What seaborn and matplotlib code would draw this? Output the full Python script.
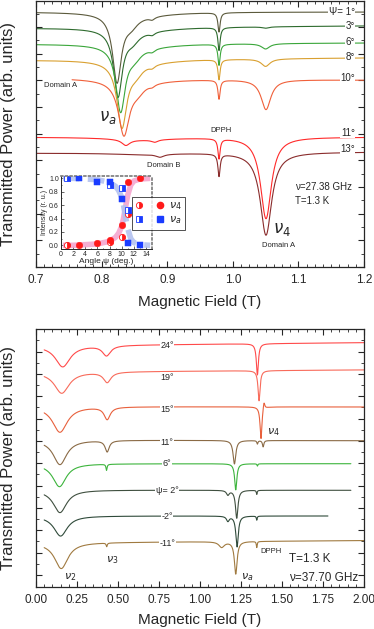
import numpy as np
import pandas as pd
import matplotlib
matplotlib.use("Agg")
import matplotlib.pyplot as plt
import seaborn as sns
from matplotlib.ticker import MultipleLocator, FixedLocator
from matplotlib.legend_handler import HandlerTuple
from matplotlib.lines import Line2D

# ---------------- upper panel, nu = 27.38 GHz ----------------
top_labels = ['Ψ= 1°', '3°', '6°', '8°', '10°', '11°', '13°']
top_colors = ['#5b5a3c', '#2e6b2e', '#3aa63a', '#d9a030', '#f0603a', '#ff2a2a', '#8a2c2c']
top_start = [0.70, 0.70, 0.70, 0.70, 0.755, 0.70, 0.70]
top_end = [1.20, 1.20, 1.20, 1.20, 1.20, 1.20, 1.20]
top_base_left = [9.56, 8.96, 8.36, 7.76, 7.08, 4.87, 4.27]
top_base_right = [9.56, 9.04, 8.40, 7.84, 7.01, 4.87, 4.31]
# absorption lines per trace: (field T, depth, fwhm T)
top_lines = [
    [(0.8235, 2.50, 0.016), (0.845, 0.35, 0.025), (0.86, 0.12, 0.12), (0.877, 0.10, 0.010), (0.979, 0.72, 0.004)],
    [(0.825, 2.45, 0.016), (0.847, 0.35, 0.025), (0.86, 0.12, 0.12), (0.877, 0.10, 0.010), (0.979, 0.86, 0.004), (1.05, 0.05, 0.012)],
    [(0.829, 2.40, 0.017), (0.850, 0.35, 0.025), (0.86, 0.12, 0.12), (0.877, 0.10, 0.010), (0.979, 0.79, 0.004), (1.05, 0.20, 0.015)],
    [(0.831, 2.40, 0.018), (0.852, 0.35, 0.025), (0.86, 0.12, 0.12), (0.877, 0.10, 0.010), (0.979, 0.75, 0.004), (1.05, 0.28, 0.016)],
    [(0.834, 2.00, 0.020), (0.855, 0.30, 0.025), (0.86, 0.10, 0.12), (0.877, 0.08, 0.010), (0.979, 0.71, 0.004), (1.0506, 1.12, 0.018)],
    [(0.837, 0.22, 0.015), (0.86, 0.10, 0.12), (0.881, 0.09, 0.012), (0.979, 0.75, 0.004), (1.0506, 3.05, 0.020)],
    [(0.86, 0.06, 0.12), (0.889, 0.11, 0.015), (0.979, 0.83, 0.004), (1.0506, 3.10, 0.021)],
]
top_label_y = [9.56, 9.04, 8.44, 7.87, 7.09, 5.02, 4.42]

# ---------------- lower panel, nu = 37.70 GHz ----------------
bot_labels = ['24°', '19°', '15°', '11°', '6°', 'ψ= 2°', '-2°', '-11°']
bot_colors = ['#ff4a4a', '#f86a5a', '#e8603c', '#8a6a45', '#3cb43c', '#3f4f3f', '#2f4a3a', '#a07a40']
bot_start = [0.05] * 8
bot_end = [2.0, 2.0, 2.0, 2.0, 1.92, 1.92, 1.78, 2.0]
bot_base_left = [10.80, 9.62, 8.08, 6.58, 5.52, 4.34, 3.18, 1.98]
bot_base_right = [10.94, 9.72, 8.06, 6.55, 5.52, 4.33, 3.18, 2.08]
bot_lines = [
    [(0.163, 0.95, 0.11), (0.430, 0.45, 0.060), (1.350, 1.40, 0.015)],
    [(0.157, 0.95, 0.11), (0.434, 0.46, 0.055), (1.360, 1.35, 0.015)],
    [(0.146, 1.15, 0.11), (0.434, 0.55, 0.045), (1.372, 1.45, 0.014), (1.390, -0.35, 0.012)],
    [(0.146, 1.10, 0.10), (0.434, 0.50, 0.030), (1.210, 1.05, 0.020), (1.350, 0.15, 0.008), (1.385, 0.28, 0.010)],
    [(0.143, 1.03, 0.10), (0.430, 0.27, 0.008), (1.218, 1.17, 0.016), (1.350, 0.10, 0.006)],
    [(0.146, 1.01, 0.10), (1.170, 0.20, 0.020), (1.224, 1.25, 0.018), (1.346, 0.18, 0.006)],
    [(0.150, 0.90, 0.10), (1.170, 0.22, 0.020), (1.226, 1.38, 0.018), (1.346, 0.18, 0.006)],
    [(0.154, 1.16, 0.10), (0.431, 0.16, 0.008), (1.132, 0.25, 0.040), (1.218, 1.45, 0.020), (1.346, 0.27, 0.006)],
]
bot_label_y = [10.79, 9.40, 7.93, 6.45, 5.51, 4.31, 3.15, 1.93]

# ---------------- inset: intensity vs angle ----------------
psi_nu4_half = [1, 8, 10, 11]
int_nu4_half = [0.0, 0.05, 0.13, 0.47]
psi_nu4_full = [3, 6, 8, 10, 11, 13]
int_nu4_full = [0.0, 0.03, 0.075, 0.30, 0.95, 1.0]
psi_nua_half = [1, 8, 10, 11]
int_nua_half = [1.0, 0.90, 0.85, 0.52]
psi_nua_full = [3, 6, 8, 10, 11, 13]
int_nua_full = [1.0, 0.95, 0.95, 0.69, 0.04, 0.0]
fit4_psi = [0.3, 2, 4, 6, 7, 8, 9, 9.5, 10, 10.3, 10.6, 11, 11.5, 12, 13, 14.7]
fit4_int = [0.0, 0.0, 0.01, 0.02, 0.04, 0.06, 0.12, 0.18, 0.28, 0.40, 0.55, 0.75, 0.90, 0.96, 0.99, 1.0]
fita_psi = [0.3, 2, 4, 6, 7, 8, 9, 9.5, 10, 10.3, 10.6, 11, 11.5, 12, 13, 14.7]
fita_int = [1.0, 1.0, 0.99, 0.98, 0.96, 0.94, 0.88, 0.82, 0.72, 0.60, 0.45, 0.25, 0.10, 0.04, 0.01, 0.0]


def spectrum(x, bl, br, lines):
    y = bl + (br - bl) * (x - x[0]) / (x[-1] - x[0])
    for c, d, w in lines:
        y = y - d / (1 + (2 * (x - c) / w) ** 2)
    return y


def build(starts, ends, bls, brs, lines, labels):
    frames = []
    for s, e, bl, br, ln, lab in zip(starts, ends, bls, brs, lines, labels):
        x = np.linspace(s, e, 3000)
        frames.append(pd.DataFrame({'field': x, 'signal': spectrum(x, bl, br, ln), 'trace': lab}))
    return pd.concat(frames, ignore_index=True)


sns.set_theme(style="ticks")
plt.rcParams['font.family'] = ['Liberation Sans', 'DejaVu Sans']
plt.rcParams['mathtext.fontset'] = 'dejavusans'

fig = plt.figure(figsize=(3.74, 6.29), dpi=100)
W, H = 374, 629
ax1 = fig.add_axes([36 / W, 1 - 267 / H, 328 / W, 266 / H])
ax2 = fig.add_axes([36 / W, 1 - 587 / H, 328 / W, 258 / H])

top_df = build(top_start, top_end, top_base_left, top_base_right, top_lines, top_labels)
bot_df = build(bot_start, bot_end, bot_base_left, bot_base_right, bot_lines, bot_labels)

sns.lineplot(data=top_df, x='field', y='signal', hue='trace', hue_order=top_labels,
             palette=top_colors, estimator=None, sort=False, lw=0.8, legend=False, ax=ax1)
sns.lineplot(data=bot_df, x='field', y='signal', hue='trace', hue_order=bot_labels,
             palette=bot_colors, estimator=None, sort=False, lw=0.8, legend=False, ax=ax2)

box = dict(facecolor='white', edgecolor='none', pad=0.3)
for lab, yy in zip(top_labels, top_label_y):
    ax1.text(1.186, yy, lab, ha='right', va='center', fontsize=7, bbox=box)
for lab, yy in zip(bot_labels, bot_label_y):
    ax2.text(0.80, yy, lab, ha='center', va='center', fontsize=6.5, bbox=box)

# upper panel annotations
ax1.text(0.737, 6.82, 'Domain A', fontsize=5.5, ha='center', va='center')
ax1.text(0.81, 5.59, r'$\nu_a$', fontsize=12, ha='center', va='center')
ax1.text(0.982, 5.10, 'DPPH', fontsize=5.5, ha='center', va='center')
ax1.text(0.894, 3.82, 'Domain B', fontsize=5.5, ha='center', va='center')
ax1.text(1.095, 3.0, 'ν=27.38 GHz', fontsize=7, ha='left', va='center')
ax1.text(1.095, 2.47, 'T=1.3 K', fontsize=7, ha='left', va='center')
ax1.text(1.075, 1.39, r'$\nu_4$', fontsize=12, ha='center', va='center')
ax1.text(1.070, 0.79, 'Domain A', fontsize=5.5, ha='center', va='center')

# lower panel annotations
ax2.text(1.445, 6.94, r'$\nu_4$', fontsize=8, ha='center', va='center')
ax2.text(0.207, 0.45, r'$\nu_2$', fontsize=8, ha='center', va='center')
ax2.text(0.463, 1.21, r'$\nu_3$', fontsize=8, ha='center', va='center')
ax2.text(1.29, 0.45, r'$\nu_a$', fontsize=8, ha='center', va='center')
ax2.text(1.43, 1.58, 'DPPH', fontsize=5.5, ha='center', va='center')
ax2.text(1.543, 1.25, 'T=1.3 K', fontsize=8.5, ha='left', va='center')
ax2.text(1.543, 0.40, 'ν=37.70 GHz', fontsize=8.5, ha='left', va='center')

for ax in (ax1, ax2):
    ax.tick_params(which='both', direction='in', top=True, right=True, labelsize=8.5, pad=5)
    ax.tick_params(which='major', length=4, width=0.8)
    ax.tick_params(which='minor', length=2, width=0.6)
    ax.set_xlabel('Magnetic Field (T)', fontsize=11)
    ax.set_ylabel('Transmitted Power (arb. units)', fontsize=12)
    ax.yaxis.set_label_coords(-0.062, 0.5)
    for s in ax.spines.values():
        s.set_linewidth(0.9)

ax1.set_xlim(0.7, 1.2)
ax1.set_ylim(0, 9.97)
ax1.xaxis.set_major_locator(MultipleLocator(0.1))
ax1.xaxis.set_minor_locator(MultipleLocator(0.0125))
ax1.yaxis.set_major_locator(MultipleLocator(1))
ax1.yaxis.set_minor_locator(MultipleLocator(0.5))
ax1.set_yticklabels([])
ax1.xaxis.set_major_formatter(matplotlib.ticker.FormatStrFormatter('%.1f'))
ax1.xaxis.set_label_coords(0.5, -0.105)

ax2.set_xlim(0, 2.0)
ax2.set_ylim(0, 11.55)
ax2.xaxis.set_major_locator(MultipleLocator(0.25))
ax2.xaxis.set_minor_locator(MultipleLocator(0.05))
ax2.yaxis.set_major_locator(FixedLocator(np.arange(0.54, 11.5, 1.0)))
ax2.yaxis.set_minor_locator(FixedLocator(np.arange(1.04, 11.5, 1.0)))
ax2.set_yticklabels([])
ax2.xaxis.set_major_formatter(matplotlib.ticker.FormatStrFormatter('%.2f'))
ax2.xaxis.set_label_coords(0.5, -0.10)

# inset
ins = fig.add_axes([61 / W, 1 - 249 / H, 91 / W, 73 / H])
ins.plot(fit4_psi, fit4_int, color='#f4a0cc', lw=4, alpha=0.85, solid_capstyle='butt')
ins.plot(fita_psi, fita_int, color='#b4c2f0', lw=4, ls=(0, (3, 1.5)), alpha=0.9)
ins.plot(psi_nu4_half, int_nu4_half, 'o', ms=4.5, color='#ff1a1a', fillstyle='right',
         markerfacecoloralt='white', mec='#ff1a1a', mew=0.6)
sns.scatterplot(x=psi_nu4_full, y=int_nu4_full, color='#ff1a1a', s=22, edgecolor='#ff1a1a', ax=ins, zorder=3)
ins.plot(psi_nua_half, int_nua_half, 's', ms=4.5, color='#1a3cff', fillstyle='right',
         markerfacecoloralt='white', mec='#1a3cff', mew=0.6)
sns.scatterplot(x=psi_nua_full, y=int_nua_full, color='#1a3cff', marker='s', s=20, edgecolor='#1a3cff', ax=ins, zorder=3)
ins.set_xlim(0, 15)
ins.set_ylim(-0.055, 1.035)
ins.xaxis.set_major_locator(MultipleLocator(2))
ins.xaxis.set_minor_locator(MultipleLocator(1))
ins.yaxis.set_major_locator(MultipleLocator(0.2))
ins.yaxis.set_minor_locator(MultipleLocator(0.1))
ins.yaxis.set_major_formatter(matplotlib.ticker.FormatStrFormatter('%.1f'))
ins.tick_params(which='both', direction='in', labelsize=5, pad=1.5, length=2, width=0.5)
ins.tick_params(which='minor', length=1)
ins.set_xlabel('Angle ψ (deg.)', fontsize=6, labelpad=0)
ins.set_ylabel('Intensity (r. u.)', fontsize=5, labelpad=1)
for side in ('top', 'right'):
    ins.spines[side].set_linestyle(':')
    ins.spines[side].set_color('gray')
for side in ('left', 'bottom'):
    ins.spines[side].set_linewidth(0.7)

h4a = Line2D([], [], ls='none', marker='o', ms=4.5, color='#ff1a1a', fillstyle='right',
             markerfacecoloralt='white', mew=0.6)
h4b = Line2D([], [], ls='none', marker='o', ms=4.5, color='#ff1a1a')
haa = Line2D([], [], ls='none', marker='s', ms=4.5, color='#1a3cff', fillstyle='right',
             markerfacecoloralt='white', mew=0.6)
hab = Line2D([], [], ls='none', marker='s', ms=4.5, color='#1a3cff')
leg = fig.legend([(h4a, h4b), (haa, hab)], [r'$\nu_4$', r'$\nu_a$'],
                 handler_map={tuple: HandlerTuple(ndivide=None, pad=1.2)},
                 bbox_to_anchor=(135 / W, 1 - 228 / H, 47 / W, 29 / H), loc='center',
                 fontsize=8, frameon=True, fancybox=False, edgecolor='black',
                 handlelength=2.6, handletextpad=0.4, borderpad=0.3, labelspacing=0.2,
                 borderaxespad=0)
leg.get_frame().set_linewidth(0.6)

fig.savefig('out.png', dpi=100)
